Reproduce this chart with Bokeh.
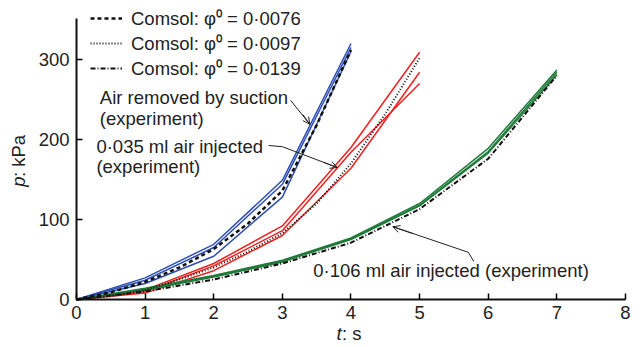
import math
from bokeh.plotting import figure
from bokeh.models import Label, Legend, LegendItem, Arrow, OpenHead, Range1d, FixedTicker
from bokeh.embed import file_html
from bokeh.resources import INLINE

FONT = "Liberation Sans"
FS = "18.5px"

# ---- data ----
t_suction = [0, 1, 2, 3, 4]
p_suction_a = [0, 27, 69, 149, 320]
p_suction_b = [0, 24, 65, 144, 315]
p_suction_c = [0, 20, 54, 128, 310]

t_inj035 = [0, 1, 2, 3, 4, 5]
p_inj035_a = [0, 12, 45, 92, 190, 309]
p_inj035_b = [0, 10, 42, 86, 184, 270]
p_inj035_c = [0, 8, 36, 80, 164, 284]

t_inj106 = [0, 1, 2, 3, 4, 5, 6, 7]
p_inj106_a = [0, 14, 30, 49, 77, 120, 189, 287]
p_inj106_b = [0, 13, 29, 48, 76, 118, 185, 284]
p_inj106_c = [0, 12, 28, 47, 75, 117, 183, 281]

t_c0076 = [0, 0.5, 1, 1.5, 2, 2.5, 3, 3.5, 4]
p_c0076 = [0, 9, 22, 40, 63, 95, 136, 218, 312]
t_c0097 = [0, 0.5, 1, 1.5, 2, 2.5, 3, 3.5, 4, 4.5, 5]
p_c0097 = [0, 4, 12, 25, 40, 60, 83, 120, 170, 232, 302]
t_c0139 = [0, 1, 2, 3, 4, 5, 6, 7]
p_c0139 = [0, 10, 25, 45, 71, 113, 176, 280]

legend_labels = ["Comsol: φ⁰ = 0·0076", "Comsol: φ⁰ = 0·0097", "Comsol: φ⁰ = 0·0139"]
x_ticks = [0, 1, 2, 3, 4, 5, 6, 7, 8]
y_ticks = [0, 100, 200, 300]

BLUE = "#2f4fb2"
RED = "#ee2020"
GREEN = "#1f7a3a"
INK = "#222222"

# The frame covers the whole canvas; axes are pinned at t=0 / p=0 and bounded.
p = figure(width=644, height=347, output_backend="svg", toolbar_location=None,
           x_range=Range1d(-1.1075, 8.277), y_range=Range1d(-60, 373.75),
           min_border=0)
p.outline_line_color = None
p.xgrid.visible = False
p.ygrid.visible = False
p.background_fill_color = "white"

for ax in (p.xaxis, p.yaxis):
    ax.axis_line_width = 2
    ax.axis_line_color = "#111111"
    ax.major_tick_in = 6
    ax.major_tick_out = 0
    ax.major_tick_line_width = 1.5
    ax.minor_tick_line_color = None
    ax.major_label_text_font = FONT
    ax.major_label_text_font_size = FS
    ax.major_label_text_color = INK
    ax.fixed_location = 0
p.xaxis.bounds = (0, 8)
p.yaxis.bounds = (0, 351)
p.xaxis.ticker = FixedTicker(ticks=x_ticks)
p.yaxis.ticker = FixedTicker(ticks=y_ticks)
p.xaxis.major_label_standoff = 6
p.yaxis.major_label_standoff = 7

lw = 1.5
for y in (p_suction_a, p_suction_b, p_suction_c):
    p.line(t_suction, y, line_color=BLUE, line_width=lw)
for y in (p_inj035_a, p_inj035_b, p_inj035_c):
    p.line(t_inj035, y, line_color=RED, line_width=lw)
for y in (p_inj106_a, p_inj106_b, p_inj106_c):
    p.line(t_inj106, y, line_color=GREEN, line_width=lw)

r1 = p.line(t_c0076, p_c0076, line_color="#111111", line_width=2.5, line_dash="4 3")
r2 = p.line(t_c0097, p_c0097, line_color="#111111", line_width=2, line_dash="1 2")
r3 = p.line(t_c0139, p_c0139, line_color="#111111", line_width=2, line_dash="5 2 1 2")

legend = Legend(items=[LegendItem(label=legend_labels[0], renderers=[r1]),
                       LegendItem(label=legend_labels[1], renderers=[r2]),
                       LegendItem(label=legend_labels[2], renderers=[r3])],
                location=(90, 267), padding=0, margin=0, spacing=0,
                glyph_width=32, glyph_height=20, label_height=20, label_standoff=9,
                label_text_font=FONT, label_text_font_size=FS,
                label_text_color=INK, label_text_line_height=1.0,
                background_fill_alpha=0, border_line_color=None)
p.add_layout(legend)

def txt(x, y, s, **kw):
    p.add_layout(Label(x=x, y=y, text=s, text_font=FONT, text_font_size=FS,
                       text_color=INK, text_baseline="middle", **kw))

txt(0.34, 252, "Air removed by suction")
txt(0.34, 226, "(experiment)")
txt(0.29, 191, "0·035 ml air injected")
txt(0.29, 166, "(experiment)")
txt(3.45, 36, "0·106 ml air injected (experiment)")

# leader lines
p.line([3.12, 3.40], [249, 219], line_color=INK, line_width=1)
p.add_layout(Arrow(end=OpenHead(size=7, line_width=1, line_color=INK),
                   x_start=3.30, y_start=231, x_end=3.40, y_end=219, line_width=1, line_color=INK))
p.line([2.80, 3.00, 3.80], [192.5, 191, 165], line_color=INK, line_width=1)
p.add_layout(Arrow(end=OpenHead(size=7, line_width=1, line_color=INK),
                   x_start=3.6, y_start=171.5, x_end=3.80, y_end=165, line_width=1, line_color=INK))
p.line([5.79, 5.71, 4.61], [47.5, 59, 91], line_color=INK, line_width=1)
p.add_layout(Arrow(end=OpenHead(size=7, line_width=1, line_color=INK),
                   x_start=4.9, y_start=82.5, x_end=4.61, y_end=91, line_width=1, line_color=INK))

# axis titles with italic variable
p.add_layout(Label(x=3.79, y=-43, text="t", text_font=FONT, text_font_style="italic",
                   text_font_size=FS, text_color=INK, text_baseline="middle"))
p.add_layout(Label(x=3.87, y=-43, text=": s", text_font=FONT,
                   text_font_size=FS, text_color=INK, text_baseline="middle"))
p.add_layout(Label(x=-0.84, y=141, text="p", text_font=FONT, text_font_style="italic",
                   angle=math.pi / 2, text_font_size=FS, text_color=INK, text_baseline="middle"))
p.add_layout(Label(x=-0.84, y=153, text=": kPa", text_font=FONT,
                   angle=math.pi / 2, text_font_size=FS, text_color=INK, text_baseline="middle"))

open("out.html", "w").write(file_html(p, INLINE))
